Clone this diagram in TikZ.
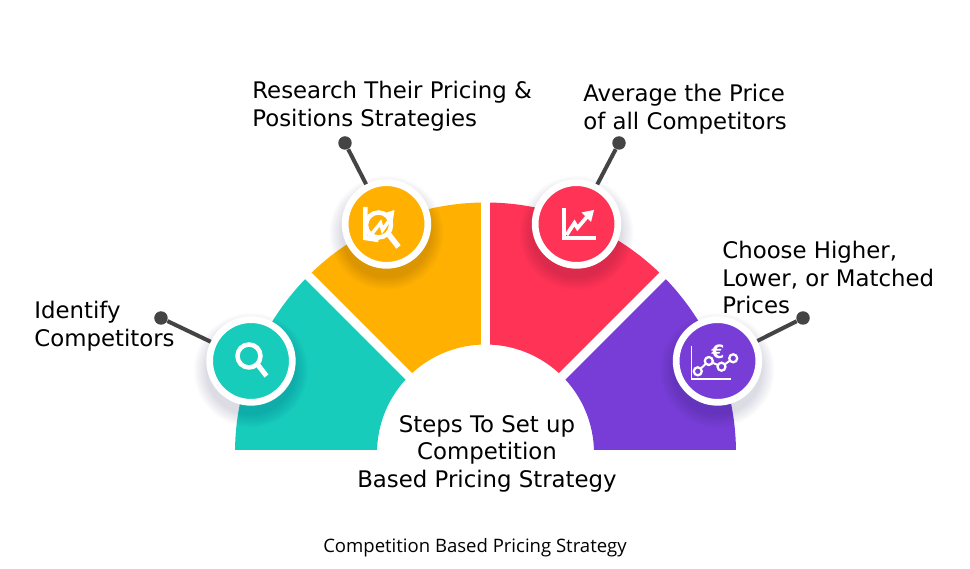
\documentclass[tikz,border=0pt]{standalone}
\usepackage{fontspec}
\setmainfont{DejaVu Sans}
\newfontfamily\capfont{Open Sans}
\definecolor{stepteal}{HTML}{17CCBB}
\definecolor{steporange}{HTML}{FFB000}
\definecolor{stepred}{HTML}{FF3355}
\definecolor{steppurple}{HTML}{773DD6}
\definecolor{pingray}{HTML}{444444}
\tikzset{
  stepdisc/.style={circle,draw=white,line width=0.134cm,minimum size=1.654cm,inner sep=0pt},
  pindot/.style={circle,fill=pingray,minimum size=0.27cm,inner sep=0pt},
  pinline/.style={pingray,line width=0.08cm},
  steplabel/.style={anchor=north west,align=left,inner sep=0pt,text=black,font=\fontsize{13}{15.6}\selectfont},
}
\begin{document}
\begin{tikzpicture}[x=0.02cm,y=0.02cm]
\useasboundingbox (-485.5,-115) rectangle (484.5,453);

%Drawing the fan
\begin{scope}
\clip (-300,4) rectangle (300,300);
\foreach \col/\a/\b in {stepteal/180/135,steporange/135/90,stepred/90/45,steppurple/45/0}
\fill[\col] (\a:250.5) arc[start angle=\a,end angle=\b,radius=250.5] -- (\b:108.5) arc[start angle=\b,end angle=\a,radius=108.5] -- cycle;
\foreach \a in {135,90,45}
\draw[white,line width=0.18cm] (\a:100) -- (\a:260);
\end{scope}

%Soft shadows under the discs
\foreach \cx/\cy in {-234.5/92,-99/229,91/229,232/92}
\foreach \r in {45,46.5,...,58}
\fill[black!75!blue,opacity=0.017] (\cx,\cy-9) circle[radius=\r];

%Pins
\node[pindot] (pinA) at (-324.5,135) {};
\node[pindot] (pinB) at (-140.5,310) {};
\node[pindot] (pinC) at (133.5,310) {};
\node[pindot] (pinD) at (317.5,135) {};

%Discs
\node[stepdisc,fill=stepteal] (stepA) at (-234.5,92) {};
\node[stepdisc,fill=steporange] (stepB) at (-99,229) {};
\node[stepdisc,fill=stepred] (stepC) at (91,229) {};
\node[stepdisc,fill=steppurple] (stepD) at (232,92) {};

\foreach \p/\s in {pinA/stepA,pinB/stepB,pinC/stepC,pinD/stepD}
\draw[pinline] (\p) -- (\s);

%Icon of disc A
\begin{scope}[shift={(stepA)},white,line width=0.09cm]
\draw (-2,5) circle[radius=11.5];
\draw[line width=0.1cm] (7,-4) -- (15.5,-15);
\end{scope}

%Icon of disc B
\begin{scope}[shift={(stepB)},white,line width=0.09cm]
\draw (-21,17) -- (-21,-14) -- (-8,-16);
\draw (-8,-1) circle[radius=12.5];
\draw[line width=0.11cm] (2,-10) -- (12,-23);
\draw[line width=0.07cm] (-14,-9) -- (-6,1) -- (-4,-6) -- (5,7);
\fill (8,14) -- (-4,10) -- (6,1) -- cycle;
\end{scope}

%Icon of disc C
\begin{scope}[shift={(stepC)},white,line width=0.085cm]
\draw (-12.7,16.3) -- (-12.7,-14) -- (19,-14);
\draw[line width=0.075cm] (-10,-11) -- (-2,1) -- (1,-4) -- (12,9);
\fill (17.5,14) -- (5,11.5) -- (14.5,2) -- cycle;
\end{scope}

%Icon of disc D
\begin{scope}[shift={(stepD)},white,line width=0.035cm]
\draw (-26,15.3) -- (-26,-18) -- (13.3,-18);
\draw[line width=0.04cm] (-19.7,-10.3) -- (-8.7,0) -- (4,-5.7) -- (15.7,2.7);
\foreach \ix/\iy in {-19.7/-10.3,-8.7/0,4/-5.7,15.7/2.7}
\filldraw[fill=steppurple,line width=0.045cm] (\ix,\iy) circle[radius=4];
\node[font=\fontsize{10.5}{12}\selectfont\bfseries,inner sep=0pt] (euro) at (0.6,9.3) {€};
\end{scope}

%Labels
\node[steplabel] (labelA) at (-451.5,152) {Identify\\Competitors};
\node[steplabel] (labelB) at (-233.5,372) {Research Their Pricing \&\\Positions Strategies};
\node[steplabel] (labelC) at (97.5,369) {Average the Price\\of all Competitors};
\node[steplabel] (labelD) at (236.5,212) {Choose Higher,\\Lower, or Matched\\Prices};
\node[steplabel,anchor=north,align=center] (labelE) at (1.5,38) {Steps To Set up\\Competition\\Based Pricing Strategy};
\node[inner sep=0pt,font=\capfont\fontsize{10.55}{12}\selectfont] (caption) at (-10.5,-95) {Competition Based Pricing Strategy};
\end{tikzpicture}
\end{document}
